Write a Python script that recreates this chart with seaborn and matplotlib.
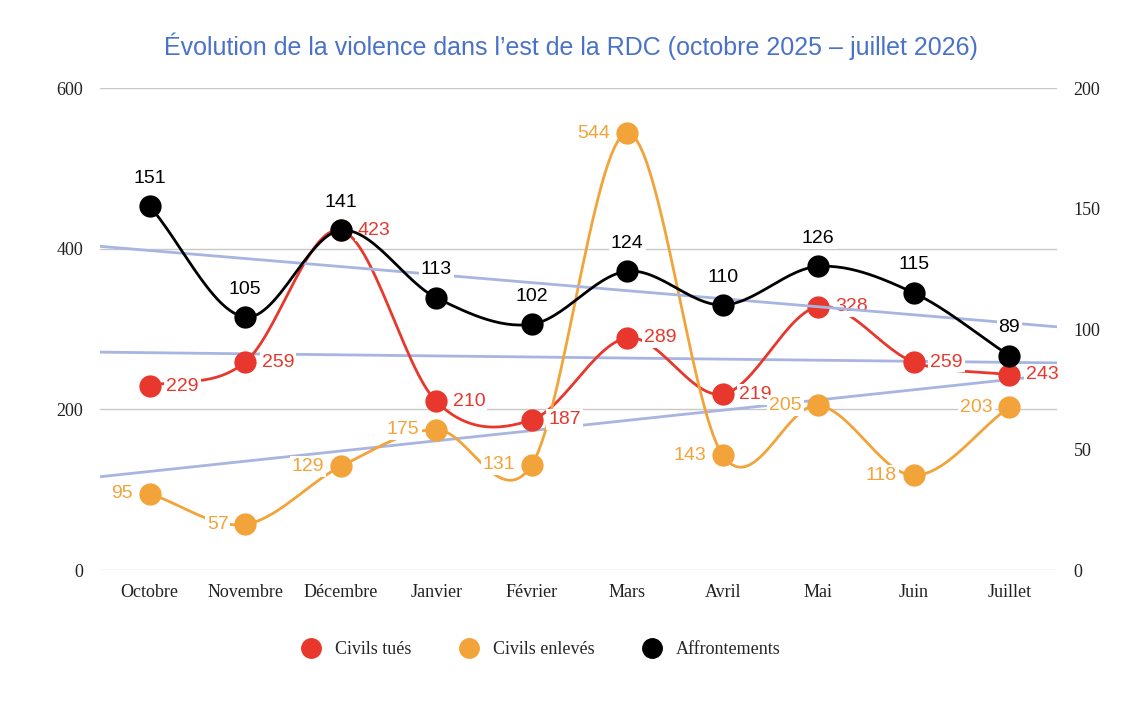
import numpy as np
import matplotlib
matplotlib.use("Agg")
import matplotlib.pyplot as plt
import seaborn as sns
import pandas as pd

mois = ["Octobre", "Novembre", "Décembre", "Janvier", "Février", "Mars", "Avril", "Mai", "Juin", "Juillet"]
civils_tues = [229, 259, 423, 210, 187, 289, 219, 328, 259, 243]
civils_enleves = [95, 57, 129, 175, 131, 544, 143, 205, 118, 203]
affrontements = [151, 105, 141, 113, 102, 124, 110, 126, 115, 89]

RED = "#e8372c"
ORANGE = "#f2a33a"
BLACK = "#000000"
TREND = "#a7b5e0"


def smooth(y, n=30):
    # Catmull-Rom spline through the points
    y = np.asarray(y, float)
    x = np.arange(len(y))
    p = np.concatenate([[2 * y[0] - y[1]], y, [2 * y[-1] - y[-2]]])
    xs, ys = [], []
    for i in range(len(y) - 1):
        t = np.linspace(0, 1, n, endpoint=False)
        p0, p1, p2, p3 = p[i], p[i + 1], p[i + 2], p[i + 3]
        yy = 0.5 * (2 * p1 + (-p0 + p2) * t + (2 * p0 - 5 * p1 + 4 * p2 - p3) * t ** 2
                    + (-p0 + 3 * p1 - 3 * p2 + p3) * t ** 3)
        xs.append(x[i] + t)
        ys.append(yy)
    xs.append([x[-1]])
    ys.append([y[-1]])
    return np.concatenate(xs), np.concatenate(ys)


sns.set_style("white")
plt.rcParams["font.family"] = ["Liberation Sans", "DejaVu Sans"]

fig = plt.figure(figsize=(11.42, 7.10), dpi=100)
ax = fig.add_axes([0.0876, 0.197, 0.838, 0.679])
ax2 = ax.twinx()

xlim = (-0.52, 9.5)
xi = np.arange(len(mois))
xt = np.array(xlim)

# trendlines
for vals, a in [(civils_tues, ax), (civils_enleves, ax), (affrontements, ax2)]:
    c = np.polyfit(xi, vals, 1)
    a.plot(xt, np.polyval(c, xt), color=TREND, lw=2, zorder=1)

for vals, col, a in [(civils_tues, RED, ax), (civils_enleves, ORANGE, ax), (affrontements, BLACK, ax2)]:
    sx, sy = smooth(vals)
    sns.lineplot(x=sx, y=sy, ax=a, color=col, lw=2, zorder=3, sort=False)
    sns.scatterplot(x=xi, y=vals, ax=a, color=col, s=220, edgecolor=col, zorder=4)

box = dict(boxstyle="square,pad=0.1", fc="white", ec="none")
for i in xi:
    ax.annotate(str(civils_tues[i]), (i, civils_tues[i]), xytext=(12, 0), textcoords="offset points",
                ha="left", va="center", color=RED, fontsize=14, bbox=box, zorder=5)
    ax.annotate(str(civils_enleves[i]), (i, civils_enleves[i]), xytext=(-12, 0), textcoords="offset points",
                ha="right", va="center", color=ORANGE, fontsize=14, bbox=box, zorder=5)
    ax2.annotate(str(affrontements[i]), (i, affrontements[i]), xytext=(0, 14), textcoords="offset points",
                 ha="center", va="bottom", color=BLACK, fontsize=14, bbox=box, zorder=5)

ax.set_xlim(xlim)
ax.set_ylim(0, 600)
ax2.set_ylim(0, 200)
ax.set_yticks([0, 200, 400, 600])
ax2.set_yticks([0, 50, 100, 150, 200])
ax.set_xticks(xi)
ax.set_xticklabels(mois)
ax.grid(axis="y", color="#c8c8c8", lw=1)
ax.set_axisbelow(True)
ax2.grid(False)
for a in (ax, ax2):
    for s in a.spines.values():
        s.set_visible(False)
    a.tick_params(length=0, labelsize=13, colors="#222222")
    for lab in a.get_xticklabels() + a.get_yticklabels():
        lab.set_family("Liberation Serif")
ax.tick_params(axis="x", pad=10)
ax.tick_params(axis="y", pad=12)
ax2.tick_params(axis="y", pad=12)

fig.text(0.5, 0.935, "Évolution de la violence dans l’est de la RDC (octobre 2025 – juillet 2026)",
         ha="center", va="center", color="#4a72c9", fontsize=18)

handles = [plt.Line2D([], [], marker="o", ls="", color=c, markersize=14) for c in (RED, ORANGE, BLACK)]
leg = fig.legend(handles, ["Civils tués", "Civils enlevés", "Affrontements"], loc="center",
                 bbox_to_anchor=(0.47, 0.085), ncol=3, frameon=False, handletextpad=0.3,
                 columnspacing=2.2, prop={"family": "Liberation Serif", "size": 13})

fig.savefig("out.png", dpi=100)
